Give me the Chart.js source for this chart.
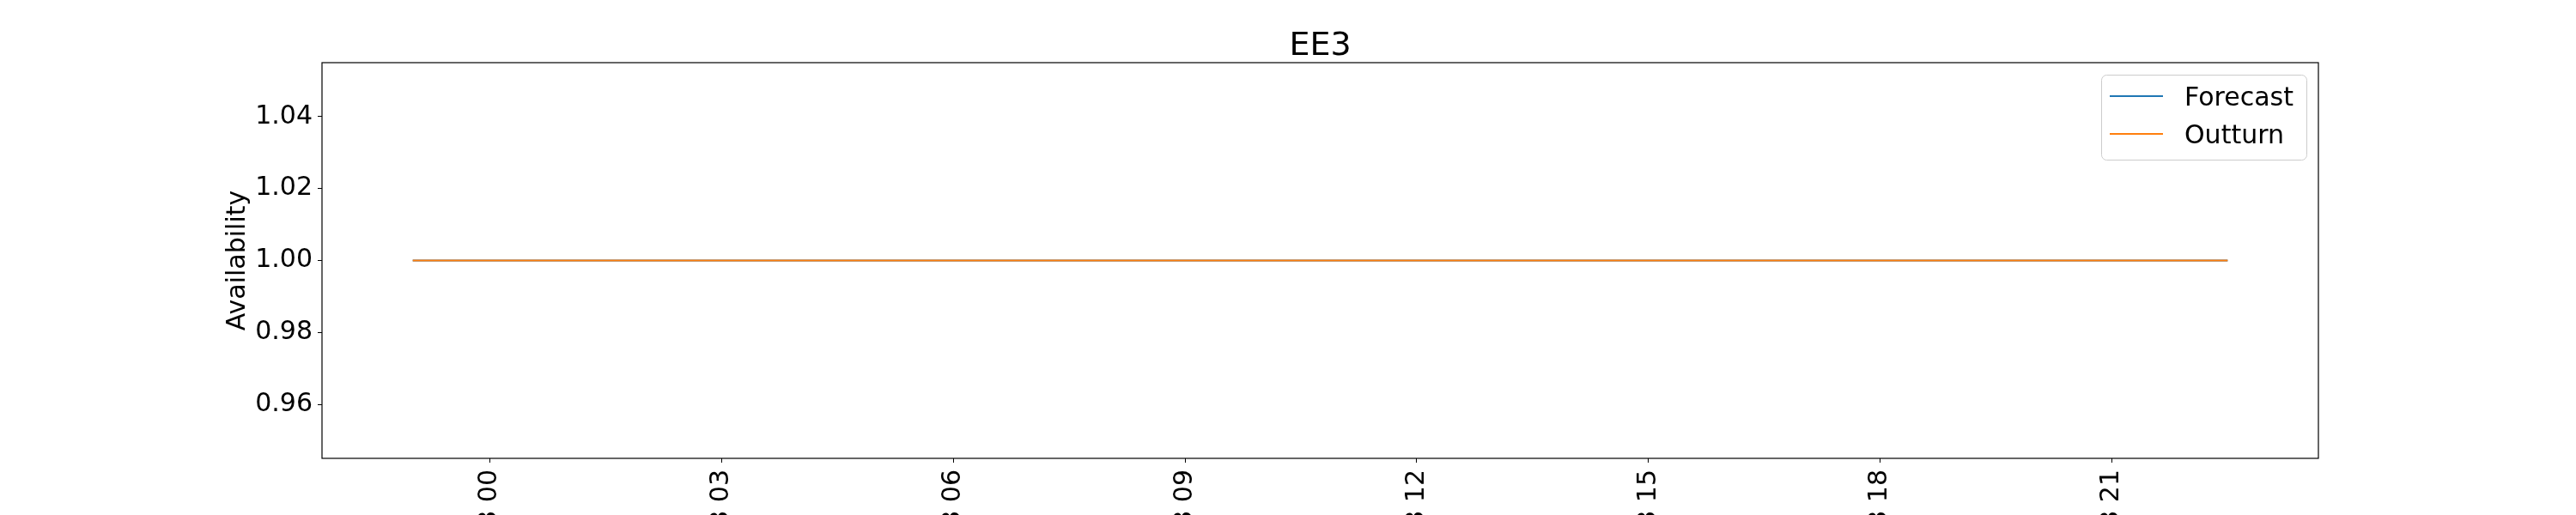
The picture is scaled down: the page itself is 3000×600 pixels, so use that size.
<!DOCTYPE html>
<html><head><meta charset="utf-8">
<script src="https://cdn.jsdelivr.net/npm/chart.js@4/dist/chart.umd.min.js"></script>
<style>html,body{margin:0;padding:0;overflow:hidden;background:#fff;width:3000px;height:600px}canvas{display:block}</style>
</head><body>
<canvas id="c" width="3000" height="700" style="width:3000px;height:700px"></canvas>
<script>
const chartTitle = "EE3";
const yAxisLabel = "Availability";
const seriesNames = ["Forecast", "Outturn"];
const seriesColors = ["#1f77b4", "#ff7f0e"];
const dayStart = "2024-07-03T00:00:00Z";
const times = [
  "2024-07-02T23:00:00Z","2024-07-02T23:30:00Z",
  "2024-07-03T00:00:00Z","2024-07-03T00:30:00Z","2024-07-03T01:00:00Z","2024-07-03T01:30:00Z",
  "2024-07-03T02:00:00Z","2024-07-03T02:30:00Z","2024-07-03T03:00:00Z","2024-07-03T03:30:00Z",
  "2024-07-03T04:00:00Z","2024-07-03T04:30:00Z","2024-07-03T05:00:00Z","2024-07-03T05:30:00Z",
  "2024-07-03T06:00:00Z","2024-07-03T06:30:00Z","2024-07-03T07:00:00Z","2024-07-03T07:30:00Z",
  "2024-07-03T08:00:00Z","2024-07-03T08:30:00Z","2024-07-03T09:00:00Z","2024-07-03T09:30:00Z",
  "2024-07-03T10:00:00Z","2024-07-03T10:30:00Z","2024-07-03T11:00:00Z","2024-07-03T11:30:00Z",
  "2024-07-03T12:00:00Z","2024-07-03T12:30:00Z","2024-07-03T13:00:00Z","2024-07-03T13:30:00Z",
  "2024-07-03T14:00:00Z","2024-07-03T14:30:00Z","2024-07-03T15:00:00Z","2024-07-03T15:30:00Z",
  "2024-07-03T16:00:00Z","2024-07-03T16:30:00Z","2024-07-03T17:00:00Z","2024-07-03T17:30:00Z",
  "2024-07-03T18:00:00Z","2024-07-03T18:30:00Z","2024-07-03T19:00:00Z","2024-07-03T19:30:00Z",
  "2024-07-03T20:00:00Z","2024-07-03T20:30:00Z","2024-07-03T21:00:00Z","2024-07-03T21:30:00Z",
  "2024-07-03T22:00:00Z","2024-07-03T22:30:00Z"
];
const forecast = [1,1,1,1,1,1,1,1,1,1,1,1,1,1,1,1,1,1,1,1,1,1,1,1,1,1,1,1,1,1,1,1,1,1,1,1,1,1,1,1,1,1,1,1,1,1,1,1];
const outturn  = [1,1,1,1,1,1,1,1,1,1,1,1,1,1,1,1,1,1,1,1,1,1,1,1,1,1,1,1,1,1,1,1,1,1,1,1,1,1,1,1,1,1,1,1,1,1,1,1];
const yTicks = [0.96, 0.98, 1.00, 1.02, 1.04];
const yTickLabels = ["0.96", "0.98", "1.00", "1.02", "1.04"];
const yMin = 0.945, yMax = 1.055;
const xTickHours = [0, 3, 6, 9, 12, 15, 18, 21];
const xTickLabels = ["07-03 00", "07-03 03", "07-03 06", "07-03 09", "07-03 12", "07-03 15", "07-03 18", "07-03 21"];

const toHours = s => (Date.parse(s) - Date.parse(dayStart)) / 3600000;
const xs = times.map(toHours);
const span = xs[xs.length - 1] - xs[0];
const xMin = xs[0] - 0.05 * span, xMax = xs[xs.length - 1] + 0.05 * span;
const FONT = "'DejaVu Sans', sans-serif";

const frame = { id: 'frame', afterDraw(chart) {
  const { ctx, chartArea: a } = chart;
  ctx.save(); ctx.strokeStyle = '#000'; ctx.lineWidth = 1.2;
  ctx.strokeRect(a.left, a.top, a.right - a.left, a.bottom - a.top);
  ctx.restore();
}};
const legendBox = { id: 'legendBox', afterDraw(chart) {
  const { ctx, chartArea: a } = chart;
  const w = 239, h = 99, x0 = a.right - 14 - w, y0 = a.top + 14;
  ctx.save();
  ctx.beginPath(); ctx.roundRect(x0 + 0.5, y0 + 0.5, w, h, 6);
  ctx.fillStyle = 'rgba(255,255,255,0.8)'; ctx.fill();
  ctx.strokeStyle = '#cccccc'; ctx.lineWidth = 1; ctx.stroke();
  ctx.font = `30px ${FONT}`; ctx.textBaseline = 'alphabetic'; ctx.fillStyle = '#000';
  chart.data.datasets.forEach((ds, i) => {
    const ly = y0 + 25 + i * 44;
    ctx.strokeStyle = ds.borderColor; ctx.lineWidth = 2;
    ctx.beginPath(); ctx.moveTo(x0 + 10, ly); ctx.lineTo(x0 + 72, ly); ctx.stroke();
    ctx.fillText(ds.label, x0 + 97, ly + 11);
  });
  ctx.restore();
}};

const tickFont = { family: FONT, size: 30 };
new Chart(document.getElementById('c'), {
  type: 'line',
  data: { datasets: [
    { label: seriesNames[0], data: xs.map((x, i) => ({ x, y: forecast[i] })), borderColor: seriesColors[0], backgroundColor: seriesColors[0], borderWidth: 2, pointRadius: 0, tension: 0, order: 1 },
    { label: seriesNames[1], data: xs.map((x, i) => ({ x, y: outturn[i] })), borderColor: seriesColors[1], backgroundColor: seriesColors[1], borderWidth: 2, pointRadius: 0, tension: 0, order: 0 }
  ]},
  options: {
    responsive: false, animation: false, devicePixelRatio: 1,
    layout: { padding: { left: 0, right: 300, top: 0, bottom: 0 } },
    plugins: {
      legend: { display: false }, tooltip: { enabled: false },
      title: { display: true, text: chartTitle, fullSize: false, color: '#000', font: { family: FONT, size: 38, weight: 'normal', lineHeight: 1.0 }, padding: { top: 35, bottom: 0 } }
    },
    scales: {
      x: { type: 'linear', position: 'bottom', min: xMin, max: xMax,
        afterBuildTicks: s => { s.ticks = xTickHours.map(v => ({ value: v })); },
        afterFit: s => { s.height = 700 - 534; },
        ticks: { autoSkip: false, minRotation: 90, maxRotation: 90, padding: 8, color: '#000', font: tickFont,
          callback: v => { const i = xTickHours.indexOf(v); return i >= 0 ? xTickLabels[i] : ''; } },
        grid: { display: true, drawOnChartArea: false, drawTicks: true, tickLength: 5, color: '#000', lineWidth: 1 },
        border: { display: false } },
      y: { type: 'linear', position: 'left', min: yMin, max: yMax,
        afterBuildTicks: s => { s.ticks = yTicks.map(v => ({ value: v })); },
        afterFit: s => { s.width = 375; },
        ticks: { padding: 6, color: '#000', font: tickFont,
          callback: v => { const i = yTicks.findIndex(t => Math.abs(t - v) < 1e-9); return i >= 0 ? yTickLabels[i] : ''; } },
        grid: { display: true, drawOnChartArea: false, drawTicks: true, tickLength: 5, color: '#000', lineWidth: 1 },
        border: { display: false },
        title: { display: true, text: yAxisLabel, color: '#000', font: { family: FONT, size: 30 }, padding: { top: 259, bottom: 0 } } }
    }
  },
  plugins: [frame, legendBox]
});
</script>
</body></html>
